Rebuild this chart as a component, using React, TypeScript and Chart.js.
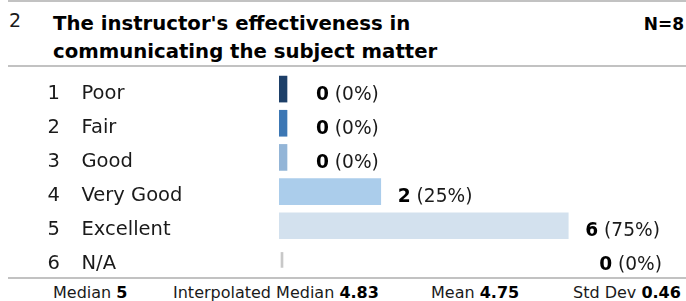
import React, { useEffect, useRef } from "react";
import { Chart, registerables } from "chart.js";

Chart.register(...registerables);

// ---------- data ----------
const QUESTION_NUMBER = "2";
const TITLE_LINES = ["The instructor's effectiveness in", "communicating the subject matter"];
const N_TOTAL = 8;
const CODES = ["1", "2", "3", "4", "5", "6"];
const CATEGORIES = ["Poor", "Fair", "Good", "Very Good", "Excellent", "N/A"];
const COUNTS = [0, 0, 0, 2, 6, 0];
const PERCENTS = [0, 0, 0, 25, 75, 0];
const NA_INDEX = 5;
const STAT_LABELS = ["Median", "Interpolated Median", "Mean", "Std Dev"];
const STAT_VALUES = ["5", "4.83", "4.75", "0.46"];

// ---------- style ----------
const BAR_COLORS = ["#1d3f68", "#3c77b4", "#93b5d7", "#abcdeb", "#d3e1ee"];
const NA_COLOR = "#c8c8c8";
const RULE_COLOR = "#c2c2c2";
const FONT = "'DejaVu Sans', Verdana, sans-serif";
const CHART_LEFT = 279;
const CHART_RIGHT_PAD = 24;
const CANVAS_W = 686;
const CANVAS_H = 210;
const STUB_PX = 8;
const STAT_LEFTS = [53, 173, 431, 573];

const labelsPlugin = {
  id: "rowLabels",
  afterDraw(chart: any) {
    const ctx = chart.ctx;
    const ys = chart.scales.y;
    const xs = chart.scales.x;
    const area = chart.chartArea;
    ctx.save();
    ctx.textAlign = "left";
    ctx.textBaseline = "alphabetic";
    CATEGORIES.forEach((name, i) => {
      const cy = ys.getPixelForValue(i);
      ctx.fillStyle = "#1a1a1a";
      ctx.font = `19.5px ${FONT}`;
      ctx.fillText(CODES[i], 47.5, cy + 9.5);
      ctx.fillText(name, 81.5, cy + 9.5);

      const boldTxt = String(COUNTS[i]);
      const normTxt = ` (${PERCENTS[i]}%)`;
      ctx.font = `bold 18.6px ${FONT}`;
      const wb = ctx.measureText(boldTxt).width;
      ctx.font = `18.6px ${FONT}`;
      const wn = ctx.measureText(normTxt).width;
      let lx: number;
      if (i === NA_INDEX) {
        lx = area.right - wb - wn;
      } else {
        const end = xs.getPixelForValue(COUNTS[i]);
        lx = Math.max(end + 17, area.left + 37);
      }
      const by = cy + 10.5;
      ctx.fillStyle = "#000";
      ctx.font = `bold 18.6px ${FONT}`;
      ctx.fillText(boldTxt, lx, by);
      ctx.fillStyle = "#1a1a1a";
      ctx.font = `18.6px ${FONT}`;
      ctx.fillText(normTxt, lx + wb, by);
    });
    ctx.restore();
  },
};

function BarChart() {
  const ref = useRef<HTMLCanvasElement | null>(null);
  useEffect(() => {
    if (!ref.current) return;
    const areaW = CANVAS_W - CHART_LEFT - CHART_RIGHT_PAD;
    const unit = (areaW - STUB_PX) / N_TOTAL; // px per count
    const xMin = -STUB_PX / unit;
    const mainData = COUNTS.map((v, i) => (i === NA_INDEX ? null : [xMin, v]));
    const naData = COUNTS.map((v, i) =>
      i === NA_INDEX ? [xMin + 2 / unit + v, xMin + 4 / unit + v] : null
    );
    const chart = new Chart(ref.current, {
      type: "bar",
      data: {
        labels: CATEGORIES,
        datasets: [
          {
            data: mainData as any,
            backgroundColor: BAR_COLORS,
            barThickness: 26,
            grouped: false,
            borderWidth: 0,
          },
          {
            data: naData as any,
            backgroundColor: NA_COLOR,
            barThickness: 15,
            grouped: false,
            borderWidth: 0,
          },
        ],
      },
      options: {
        indexAxis: "y",
        animation: false,
        responsive: true,
        maintainAspectRatio: false,
        layout: { padding: { left: CHART_LEFT, right: CHART_RIGHT_PAD, top: 5, bottom: 0 } },
        plugins: { legend: { display: false }, tooltip: { enabled: false }, title: { display: false } },
        scales: {
          x: { type: "linear", display: false, min: xMin, max: N_TOTAL },
          y: { type: "category", display: false, offset: true },
        },
      },
      plugins: [labelsPlugin],
    });
    return () => chart.destroy();
  }, []);
  return (
    <div style={{ position: "absolute", left: 0, top: 67, width: CANVAS_W, height: CANVAS_H }}>
      <canvas ref={ref} />
    </div>
  );
}

export default function App() {
  const rule = (top: number) => (
    <div style={{ position: "absolute", left: 8, right: 0, top, height: 2, background: RULE_COLOR }} />
  );
  return (
    <div
      style={{
        position: "absolute",
        left: 0,
        top: 0,
        width: 686,
        height: 301,
        overflow: "hidden",
        background: "#fff",
        fontFamily: FONT,
        color: "#1a1a1a",
      }}
    >
      {rule(0)}
      <div style={{ position: "absolute", left: 9, top: 6, fontSize: 19, lineHeight: "28px" }}>
        {QUESTION_NUMBER}
      </div>
      <div
        style={{
          position: "absolute",
          left: 53,
          top: 10,
          fontSize: 19.7,
          lineHeight: "28px",
          fontWeight: "bold",
          color: "#000",
          whiteSpace: "nowrap",
        }}
      >
        {TITLE_LINES.map((l, i) => (
          <div key={i}>{l}</div>
        ))}
      </div>
      <div
        style={{
          position: "absolute",
          right: 2,
          top: 10,
          fontSize: 17,
          lineHeight: "28px",
          fontWeight: "bold",
          color: "#000",
        }}
      >
        N={N_TOTAL}
      </div>
      {rule(65)}
      <BarChart />
      {rule(277)}
      {STAT_LABELS.map((l, i) => (
        <div
          key={i}
          style={{
            position: "absolute",
            left: STAT_LEFTS[i],
            top: 282.5,
            fontSize: 16,
            lineHeight: "20px",
            whiteSpace: "nowrap",
          }}
        >
          {l} <b style={{ color: "#000" }}>{STAT_VALUES[i]}</b>
        </div>
      ))}
    </div>
  );
}
